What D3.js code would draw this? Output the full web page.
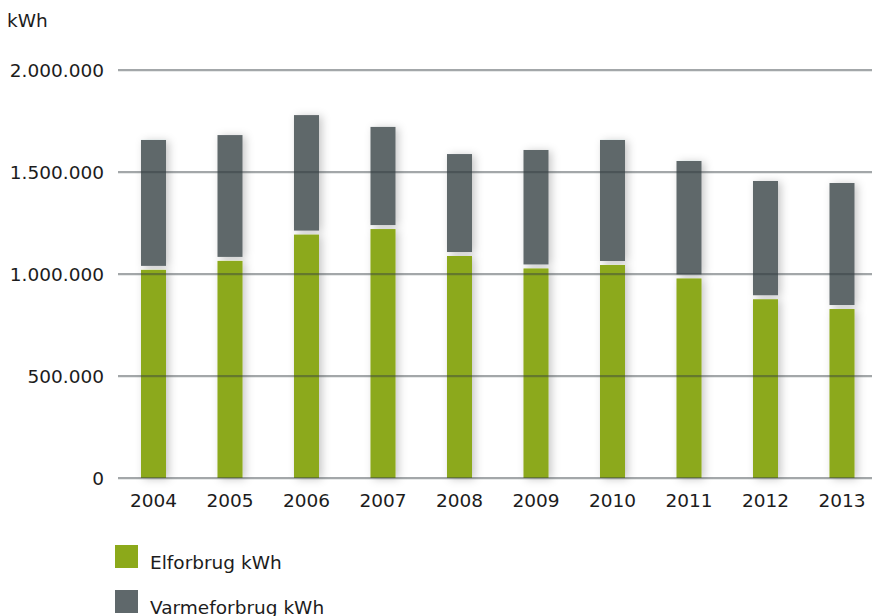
<!DOCTYPE html>
<html>
<head>
<meta charset="utf-8">
<script src="https://cdn.jsdelivr.net/npm/d3@7"></script>
<style>
  html, body { margin: 0; padding: 0; background: #fff; }
  svg { display: block; font-family: "DejaVu Sans", sans-serif; }
</style>
</head>
<body>
<svg id="chart" width="872" height="616"></svg>
<script>
// Annual consumption, kWh
const years = ["2004", "2005", "2006", "2007", "2008", "2009", "2010", "2011", "2012", "2013"];
const elforbrug = [1030000, 1074000, 1203000, 1230000, 1098000, 1037000, 1054000, 988000, 886000, 838000];
const varmeforbrug = [627000, 607000, 576000, 491000, 490000, 571000, 603000, 566000, 570000, 608000];
const yTicks = [0, 500000, 1000000, 1500000, 2000000];
const seriesNames = ["Elforbrug kWh", "Varmeforbrug kWh"];
const seriesColors = ["#8ca91a", "#5f686b"];

const FONT = "'DejaVu Sans', sans-serif";
const FONT_SIZE = 18.5;
const TEXT_COLOR = "#1c1c1c";

const svg = d3.select("#chart");

const x = d3.scaleBand()
  .domain(years)
  .range([115.25, 880.25])
  .paddingInner(0.673)
  .paddingOuter(0.3365);

const y = d3.scaleLinear().domain([0, 2000000]).range([478, 70]);

// Danish thousands separator
const fmt = d3.formatLocale({ decimal: ",", thousands: ".", grouping: [3], currency: ["", " kr."] }).format(",d");

const defs = svg.append("defs");
const shadow = defs.append("filter").attr("id", "barShadow")
  .attr("x", "-60%").attr("y", "-20%").attr("width", "260%").attr("height", "140%");
shadow.append("feDropShadow")
  .attr("dx", 3).attr("dy", 1).attr("stdDeviation", 4)
  .attr("flood-color", "#000").attr("flood-opacity", 0.22);

const rows = years.map((yr, i) => ({ year: yr, el: elforbrug[i], varme: varmeforbrug[i] }));

// stacked bars: electricity at the bottom, heating above, with a white gap between
const bars = svg.append("g");
const gap = 4;
rows.forEach(r => {
  const g = bars.append("g").attr("filter", "url(#barShadow)");
  const total = r.el + r.varme;
  g.append("rect")
    .attr("x", x(r.year)).attr("width", x.bandwidth())
    .attr("y", y(total))
    .attr("height", y(r.el) - y(total) - gap / 2)
    .attr("fill", seriesColors[1]);
  g.append("rect")
    .attr("x", x(r.year)).attr("width", x.bandwidth())
    .attr("y", y(r.el) + gap / 2)
    .attr("height", y(0) - y(r.el) - gap / 2)
    .attr("fill", seriesColors[0]);
});

// grid lines drawn over the bars
const grid = svg.append("g");
grid.selectAll("line.halo").data(yTicks).join("line").attr("class", "halo")
  .attr("x1", 118).attr("x2", 872)
  .attr("y1", d => y(d) + 1.5).attr("y2", d => y(d) + 1.5)
  .attr("stroke", "rgba(60,70,75,0.12)").attr("stroke-width", 1);
grid.selectAll("line.main").data(yTicks).join("line").attr("class", "main")
  .attr("x1", 118).attr("x2", 872)
  .attr("y1", d => y(d)).attr("y2", d => y(d))
  .attr("stroke", "rgba(50,60,65,0.45)").attr("stroke-width", 2);

const yAxis = d3.axisLeft(y).tickValues(yTicks).tickFormat(fmt).tickSize(0).tickPadding(0);
const yAxisG = svg.append("g").attr("transform", "translate(104,0)").call(yAxis);
yAxisG.select(".domain").remove();
yAxisG.selectAll("text")
  .attr("font-family", FONT)
  .attr("font-size", FONT_SIZE).attr("fill", TEXT_COLOR).attr("dy", "0.36em");

const xAxis = d3.axisBottom(x).tickSize(0).tickPadding(0);
const xAxisG = svg.append("g").attr("transform", "translate(0,507)").call(xAxis);
xAxisG.select(".domain").remove();
xAxisG.selectAll("text")
  .attr("font-family", FONT)
  .attr("font-size", FONT_SIZE).attr("fill", TEXT_COLOR).attr("dy", 0);

svg.append("text").attr("x", 7).attr("y", 27)
  .attr("font-family", FONT)
  .attr("font-size", FONT_SIZE).attr("fill", TEXT_COLOR).text("kWh");

// legend
const legend = svg.append("g");
seriesNames.forEach((name, i) => {
  const ly = 545 + i * 45;
  legend.append("rect").attr("x", 115).attr("y", ly).attr("width", 23).attr("height", 23)
    .attr("fill", seriesColors[i]);
  legend.append("text").attr("x", 150).attr("y", ly + 23.5)
    .attr("font-family", FONT)
    .attr("font-size", FONT_SIZE).attr("fill", TEXT_COLOR).text(name);
});
</script>
</body>
</html>
